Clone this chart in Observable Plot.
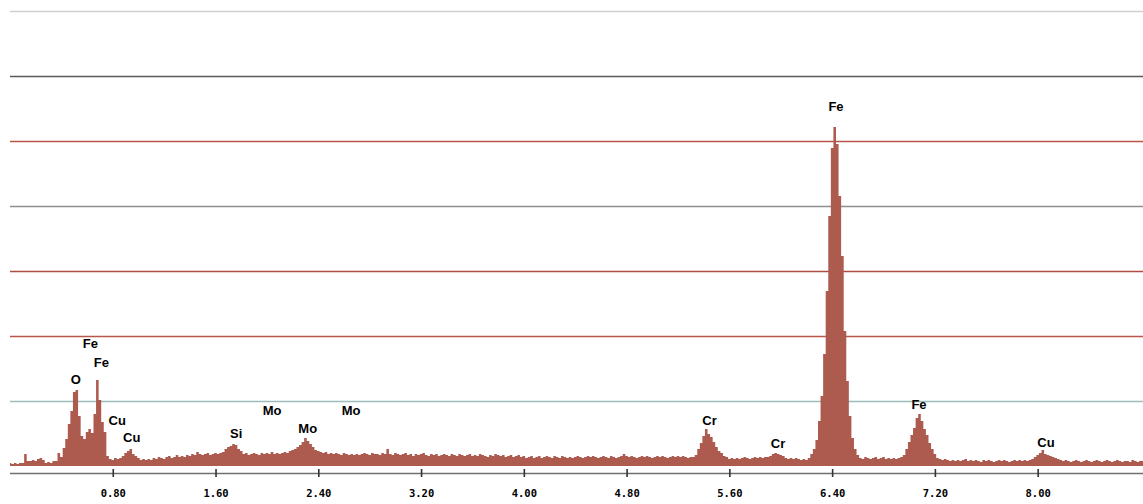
<!DOCTYPE html>
<html>
<head>
<meta charset="utf-8">
<script src="https://cdn.jsdelivr.net/npm/d3@7"></script>
<script src="https://cdn.jsdelivr.net/npm/@observablehq/plot@0.6"></script>
<style>
  html, body { margin: 0; padding: 0; background: #fff; }
  #chart svg { display: block; }
</style>
</head>
<body>
<div id="chart"></div>
<script>
// EDS spectrum, channel width 0.02 keV starting at 0 keV
const channelWidth = 0.02;
const counts = [
  3,2,3,2,3,3,12,5,5,6,
  5,7,8,6,3,4,3,5,5,13,
  9,18,27,42,55,74,76,50,30,27,
  34,37,33,52,86,66,44,34,10,7,
  6,8,7,8,10,13,15,17,12,10,
  8,6,7,6,7,6,8,7,9,8,
  7,9,10,8,9,11,9,10,9,11,
  10,12,11,14,12,11,12,13,11,12,
  13,12,13,14,17,19,20,22,21,17,
  15,12,13,11,12,13,12,11,13,12,
  13,12,14,12,13,12,13,14,13,15,
  16,17,19,21,24,28,25,22,19,16,
  15,14,13,14,12,13,12,13,12,11,
  13,12,11,12,11,12,11,12,13,12,
  11,13,12,12,11,13,12,17,12,11,
  13,12,11,12,13,11,12,10,12,11,
  12,13,11,10,12,11,12,10,11,12,
  11,10,12,11,10,12,11,10,11,12,
  10,11,10,12,11,10,9,11,10,12,
  11,10,11,9,10,11,9,10,11,9,
  10,8,9,10,8,9,10,8,9,10,
  9,8,10,9,8,10,9,8,9,8,
  9,10,9,8,9,10,9,10,9,8,
  9,10,9,8,10,9,8,9,10,12,
  10,9,10,9,8,9,10,9,10,9,
  8,9,10,9,10,9,8,9,10,9,
  10,9,10,9,8,9,9,11,17,23,
  30,37,32,29,24,19,15,13,10,9,
  7,8,7,8,7,8,9,8,7,8,
  9,8,9,8,9,9,10,12,13,12,
  11,10,8,7,8,7,8,7,6,7,
  6,8,12,17,26,45,70,112,175,250,
  318,339,322,270,210,135,85,50,28,17,
  11,8,7,9,8,7,8,9,7,8,
  9,7,8,7,8,7,8,9,11,17,
  24,31,38,48,52,45,37,31,23,17,
  12,8,7,6,7,6,5,6,5,6,
  5,6,7,5,6,5,6,5,4,6,
  5,6,5,4,5,6,5,6,5,4,
  5,6,5,6,5,6,5,6,7,9,
  11,13,16,12,11,10,9,8,7,6,
  5,6,5,4,5,6,5,4,5,6,
  5,4,5,6,5,4,5,6,5,4,
  5,6,5,4,5,5,4,6,5,4,5,5
];

// Peak labels
const peakLabels  = ["Fe", "Fe", "Fe", "O", "Cu", "Cu", "Si", "Mo", "Mo", "Mo", "Cr", "Cr", "Fe", "Cu"];
const peakEnergy  = [6.426, 0.621, 0.707, 0.508, 0.831, 0.944, 1.757, 2.037, 2.314, 2.652, 5.442, 5.975, 7.072, 8.061];
const peakLabelY  = [360, 123, 104, 87, 46, 29, 33, 56, 38, 56, 46, 23, 62, 24];

// Axis ticks (keV)
const tickValues = [0.8, 1.6, 2.4, 3.2, 4.0, 4.8, 5.6, 6.4, 7.2, 8.0];
const tickLabels = ["0.80", "1.60", "2.40", "3.20", "4.00", "4.80", "5.60", "6.40", "7.20", "8.00"];

// Horizontal grid lines (count levels) and their printed colours
const gridLevels = [65, 130, 195, 260, 325, 390, 455];
const gridColors = ["#9dbcbc", "#b8564a", "#ad4e43", "#8e8e8e", "#b8564a", "#5a5a5a", "#d0d0d0"];
const gridWidths = [1.5, 1.4, 1.4, 1.5, 1.4, 1.6, 1.3];

const spectrum = counts.map((c, i) => ({energy: i * channelWidth, counts: c}));
const grid = gridLevels.map((g, i) => ({level: g, color: gridColors[i], width: gridWidths[i]}));
const labels = peakLabels.map((t, i) => ({text: t, energy: peakEnergy[i], y: peakLabelY[i]}));
const ticks = tickValues.map((v, i) => ({value: v, label: tickLabels[i]}));

const fillColor = "#ad5a4f";

const chart = Plot.plot({
  width: 1143,
  height: 504,
  marginLeft: 10,
  marginRight: 0,
  marginTop: 11,
  marginBottom: 38,
  style: {background: "#fff"},
  x: {domain: [0, 8.82], axis: null},
  y: {domain: [0, 455], axis: null},
  marks: [
    Plot.ruleY(grid, {y: "level", stroke: "color", strokeWidth: "width"}),
    Plot.areaY(spectrum, {x: "energy", y: "counts", fill: fillColor, curve: "step"}),
    Plot.ruleY([-7], {stroke: "#707070", strokeWidth: 1.6}),
    Plot.ruleX(ticks, {x: "value", y1: -3, y2: -11, stroke: "#333", strokeWidth: 1.6}),
    Plot.text(ticks, {x: "value", y: -27, text: "label", fill: "#000",
      fontFamily: "DejaVu Sans Mono", fontWeight: "bold", fontSize: 10.5, textAnchor: "middle", lineAnchor: "middle"}),
    Plot.text(labels, {x: "energy", y: "y", text: "text", fill: "#000",
      fontFamily: "Liberation Sans, Arial, sans-serif", fontWeight: "bold", fontSize: 13, textAnchor: "middle", lineAnchor: "middle"})
  ]
});
document.getElementById("chart").append(chart);
</script>
</body>
</html>
